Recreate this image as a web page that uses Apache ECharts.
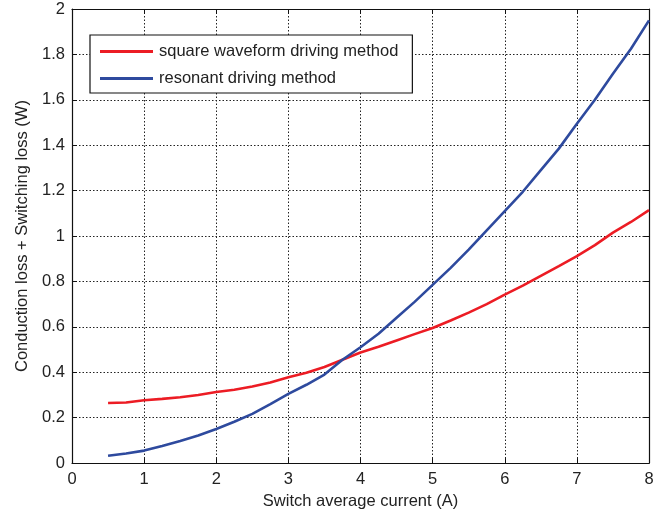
<!DOCTYPE html>
<html>
<head>
<meta charset="utf-8">
<script src="https://cdn.jsdelivr.net/npm/echarts@6/dist/echarts.min.js"></script>
<style>
  html, body { margin: 0; padding: 0; background: #fff; }
  #chart { width: 671px; height: 515px; }
</style>
</head>
<body>
<div id="chart"></div>
<script>
// Switch average current (A)
const current = [0.5, 0.75, 1.0, 1.25, 1.5, 1.75, 2.0, 2.25, 2.5, 2.75, 3.0, 3.25, 3.5, 3.75,
  4.0, 4.25, 4.5, 4.75, 5.0, 5.25, 5.5, 5.75, 6.0, 6.25, 6.5, 6.75, 7.0, 7.25, 7.5, 7.75, 8.0];

// Total loss (W), square waveform drive
const squareLoss = [0.265, 0.267, 0.277, 0.283, 0.290, 0.300, 0.313, 0.323, 0.337, 0.355, 0.378,
  0.398, 0.423, 0.455, 0.487, 0.512, 0.540, 0.568, 0.595, 0.628, 0.663, 0.700, 0.742, 0.782,
  0.825, 0.868, 0.912, 0.960, 1.015, 1.062, 1.114];

// Total loss (W), resonant drive
const resonantLoss = [0.032, 0.042, 0.055, 0.075, 0.097, 0.122, 0.150, 0.182, 0.217, 0.260, 0.305,
  0.345, 0.390, 0.455, 0.510, 0.570, 0.640, 0.710, 0.785, 0.860, 0.940, 1.025, 1.110, 1.195,
  1.290, 1.385, 1.495, 1.600, 1.715, 1.825, 1.950];

const seriesNames = ['square waveform driving method', 'resonant driving method'];
const xTitle = 'Switch average current (A)';
const yTitle = 'Conduction loss + Switching loss (W)';

const pair = (xs, ys) => xs.map((x, i) => [x, ys[i]]);
const font = 'Arial, "Liberation Sans", sans-serif';
const fs = 16.5;

const gridLine = { show: true, lineStyle: { type: [1.5, 2], color: '#222', width: 1 } };
const frameLine = { show: true, onZero: false, lineStyle: { color: '#111', width: 1.2 } };
const tickIn = { show: true, inside: true, length: 5, lineStyle: { color: '#111' } };

const chart = echarts.init(document.getElementById('chart'));
chart.setOption({
  animation: false,
  grid: { left: 72, right: 22, top: 9, bottom: 51, show: false },
  legend: {
    orient: 'vertical',
    left: 90, top: 35,
    padding: [8, 14, 6, 10],
    itemGap: 10,
    itemWidth: 53, itemHeight: 3,
    borderColor: '#111', borderWidth: 1.2,
    backgroundColor: '#fff',
    icon: 'rect',
    textStyle: { fontFamily: font, fontSize: fs, lineHeight: 17, color: '#222', padding: [0, 0, 0, 1] },
    data: seriesNames
  },
  xAxis: [{
    type: 'value', min: 0, max: 8, interval: 1,
    name: xTitle, nameLocation: 'middle', nameGap: 27,
    nameTextStyle: { fontFamily: font, fontSize: fs, color: '#222' },
    axisLine: frameLine, axisTick: tickIn, splitLine: gridLine,
    axisLabel: { fontFamily: font, fontSize: fs, color: '#222', margin: 8 }
  }, {
    type: 'value', min: 0, max: 8, interval: 1, position: 'top',
    axisLine: frameLine, axisTick: tickIn, axisLabel: { show: false }, splitLine: { show: false }
  }],
  yAxis: [{
    type: 'value', min: 0, max: 2, interval: 0.2,
    name: yTitle, nameLocation: 'middle', nameGap: 40,
    nameTextStyle: { fontFamily: font, fontSize: fs, color: '#222' },
    axisLine: frameLine, axisTick: tickIn, splitLine: gridLine,
    axisLabel: { fontFamily: font, fontSize: fs, color: '#222', margin: 7,
      formatter: v => String(Math.round(v * 10) / 10) }
  }, {
    type: 'value', min: 0, max: 2, interval: 0.2, position: 'right',
    axisLine: frameLine, axisTick: tickIn, axisLabel: { show: false }, splitLine: { show: false }
  }],
  series: [{
    name: seriesNames[0], type: 'line', showSymbol: false, smooth: false,
    data: pair(current, squareLoss),
    itemStyle: { color: '#ec1c24' },
    lineStyle: { color: '#ec1c24', width: 2.6 }
  }, {
    name: seriesNames[1], type: 'line', showSymbol: false, smooth: false,
    data: pair(current, resonantLoss),
    itemStyle: { color: '#2e4a9e' },
    lineStyle: { color: '#2e4a9e', width: 2.6 }
  }]
});
</script>
</body>
</html>
